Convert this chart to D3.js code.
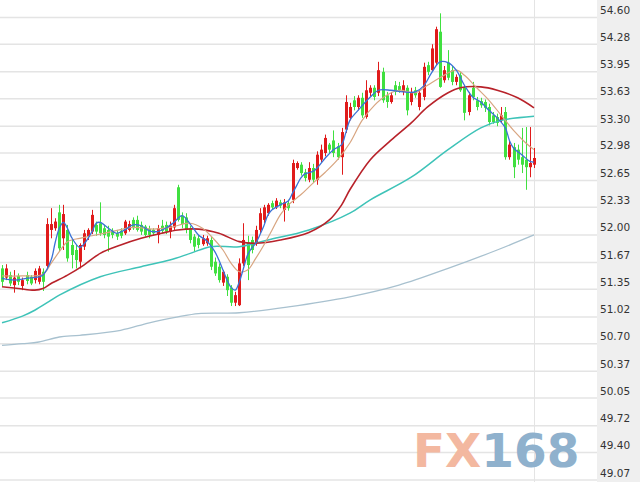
<!DOCTYPE html>
<html><head><meta charset="utf-8">
<script src="https://cdn.jsdelivr.net/npm/d3@7/dist/d3.min.js"></script>
<style>html,body{margin:0;padding:0;background:#fff}svg{display:block}</style>
</head><body>
<svg id="chart" width="640" height="482"></svg>
<script>
// ---- tick labels (right axis) ----
const tickLabels = ["54.60","54.28","53.95","53.63","53.30","52.98","52.65","52.33","52.00","51.67","51.35","51.02","50.70","50.37","50.05","49.72","49.40","49.07"];

// ---- candle data (one per session) ----
const opens = [51.60,51.49,51.52,51.40,51.51,51.39,51.52,51.50,51.46,51.44,51.56,
51.63,52.06,52.08,52.27,51.96,52.06,51.88,51.82,51.68,51.86,
51.98,52.04,52.12,52.14,52.08,52.06,52.05,52.02,52.05,52.02,
52.06,52.18,52.18,52.12,52.10,52.07,52.06,52.00,52.11,52.12,
52.04,52.09,52.57,52.23,52.21,52.08,51.98,51.96,51.89,51.90,
51.94,51.68,51.62,51.43,51.50,51.37,51.19,51.16,51.66,51.91,
51.94,51.90,52.06,52.18,52.26,52.38,52.33,52.39,52.30,52.38,
52.42,52.80,52.84,52.75,52.66,52.80,52.66,52.90,52.98,53.08,
53.13,53.06,52.93,53.26,53.40,53.61,53.53,53.64,53.41,53.70,
53.76,53.70,53.95,53.67,53.59,53.79,53.78,53.71,53.76,53.59,
53.73,53.53,53.65,54.03,53.97,54.06,54.43,53.85,54.06,53.97,
53.83,53.91,53.76,53.47,53.76,53.61,53.60,53.59,53.53,53.43,
53.41,53.37,53.47,52.93,53.05,53.02,52.93,52.90,52.81,52.84];
const closes = [51.44,51.60,51.42,51.49,51.44,51.46,51.45,51.42,51.57,51.60,51.44,
52.13,52.13,52.16,51.84,52.25,51.72,51.76,51.70,51.88,52.02,
52.06,52.24,52.04,52.02,52.00,51.98,52.00,51.98,51.99,52.16,
52.13,52.08,52.06,52.04,52.00,52.00,52.02,52.08,52.05,52.04,
52.11,52.32,52.18,52.13,52.06,51.94,51.86,51.88,51.96,51.96,
51.62,51.54,51.46,51.56,51.34,51.19,51.28,51.66,51.94,51.64,
51.82,52.06,52.26,52.33,52.36,52.33,52.41,52.35,52.39,52.32,
52.86,52.86,52.74,52.68,52.80,52.66,52.96,53.02,53.16,53.02,
52.98,52.93,53.23,53.59,53.53,53.53,53.64,53.43,53.73,53.76,
53.65,53.97,53.61,53.59,53.67,53.71,53.73,53.79,53.49,53.71,
53.67,53.70,54.01,53.95,54.23,54.46,53.77,53.97,53.88,53.83,
53.89,53.73,53.46,53.67,53.65,53.53,53.55,53.52,53.35,53.35,
53.34,53.43,52.93,53.08,52.81,52.90,52.84,52.81,52.86,52.92];
const highs = [51.64,51.65,51.56,51.58,51.54,51.49,51.56,51.52,51.60,51.63,51.60,
52.20,52.32,52.20,52.36,52.36,52.12,51.94,51.88,51.90,52.06,
52.08,52.30,52.16,52.39,52.12,52.11,52.08,52.06,52.08,52.18,
52.17,52.21,52.23,52.16,52.12,52.11,52.08,52.12,52.18,52.16,
52.16,52.36,52.60,52.27,52.26,52.11,52.01,52.00,52.00,51.99,
51.98,51.73,51.66,51.58,51.53,51.40,51.32,51.72,52.14,51.99,
51.98,52.11,52.32,52.36,52.38,52.41,52.44,52.42,52.43,52.42,
52.90,52.88,52.87,52.79,52.87,52.85,53.00,53.08,53.20,53.10,
53.25,53.10,53.28,53.67,53.58,53.66,53.67,53.70,53.85,53.79,
53.79,54.07,54.00,53.71,53.71,53.84,53.83,53.85,53.79,53.76,
53.77,53.73,54.06,54.07,54.28,54.49,54.65,54.02,54.21,54.02,
53.92,53.95,53.79,53.71,53.83,53.65,53.64,53.62,53.57,53.47,
53.45,53.53,53.53,53.13,53.10,53.08,53.28,53.29,53.29,53.04];
const lows = [51.38,51.46,51.39,51.31,51.40,51.34,51.41,51.40,51.42,51.41,51.33,
51.58,51.96,52.05,51.80,51.82,51.68,51.60,51.60,51.60,51.82,
51.94,52.01,51.99,51.99,51.96,51.80,51.96,51.94,51.96,52.00,
52.04,52.06,52.04,52.00,51.98,51.96,51.99,51.90,52.02,52.01,
51.96,52.06,52.16,52.08,52.02,51.90,51.80,51.84,51.87,51.87,
51.58,51.51,51.43,51.39,51.27,51.15,51.15,51.15,51.63,51.46,
51.78,51.87,52.02,52.14,52.23,52.31,52.31,52.32,52.16,52.29,
52.38,52.78,52.71,52.64,52.63,52.62,52.60,52.86,52.94,52.98,
52.93,52.90,52.72,53.22,53.37,53.49,53.49,53.40,53.39,53.66,
53.61,53.66,53.58,53.52,53.57,53.67,53.70,53.67,53.43,53.55,
53.64,53.49,53.61,53.91,53.95,54.03,53.76,53.82,53.85,53.79,
53.79,53.71,53.37,53.43,53.61,53.49,53.52,53.47,53.31,53.33,
53.30,53.34,52.90,52.90,52.68,52.84,52.74,52.54,52.69,52.80];

// ---- moving averages: [session index, value] ----
const ma5 = [[0,51.48],[3,51.46],[6,51.48],[9,51.50],[10,51.52],[12,51.70],[13,51.91],[14,52.08],[15,52.15],[16,52.08],[17,51.97],[19,51.85],[20,51.89],[22,52.04],[23,52.14],[24,52.15],[26,52.08],[28,52.02],[30,52.06],[32,52.12],[34,52.11],[36,52.05],[38,52.04],[40,52.08],[42,52.15],[44,52.23],[46,52.13],[48,52.00],[50,51.93],[52,51.80],[53,51.70],[54,51.58],[55,51.46],[56,51.37],[57,51.34],[58,51.44],[59,51.60],[60,51.76],[61,51.84],[62,51.90],[63,52.00],[64,52.11],[65,52.24],[66,52.30],[68,52.36],[70,52.41],[71,52.50],[72,52.59],[73,52.68],[74,52.73],[76,52.76],[77,52.80],[79,52.92],[81,53.02],[83,53.08],[84,53.22],[85,53.37],[87,53.49],[90,53.65],[92,53.73],[95,53.73],[98,53.71],[101,53.71],[103,53.78],[105,53.94],[107,54.07],[109,54.06],[111,53.97],[113,53.79],[115,53.65],[117,53.59],[119,53.49],[121,53.40],[123,53.28],[124,53.13],[125,53.04],[127,52.96],[129,52.88],[130,52.87]];
const ma10 = [[0,51.51],[5,51.51],[10,51.53],[12,51.66],[14,51.80],[16,51.92],[19,51.96],[22,51.99],[26,52.03],[32,52.09],[37,52.07],[41,52.09],[46,52.14],[49,52.08],[51,51.99],[54,51.82],[56,51.66],[58,51.56],[60,51.58],[62,51.72],[64,51.88],[66,52.06],[68,52.24],[70,52.36],[73,52.48],[76,52.62],[79,52.75],[82,52.90],[85,53.10],[88,53.37],[91,53.55],[94,53.67],[97,53.73],[101,53.70],[104,53.79],[107,53.88],[111,53.97],[113,53.91],[116,53.76],[119,53.61],[122,53.43],[125,53.25],[128,53.10],[130,53.02]];
const ma20 = [[0,51.38],[4,51.36],[8,51.34],[10,51.36],[12,51.42],[16,51.52],[20,51.64],[24,51.78],[29,51.88],[34,51.96],[39,52.02],[43,52.06],[48,52.07],[53,52.02],[58,51.92],[62,51.90],[68,51.94],[75,52.03],[80,52.18],[83,52.36],[85,52.54],[90,52.90],[95,53.13],[100,53.34],[104,53.53],[109,53.70],[112,53.76],[117,53.77],[121,53.73],[126,53.64],[130,53.52]];
const ma60 = [[0,50.95],[5,51.03],[8,51.10],[12,51.22],[14,51.28],[24,51.50],[34,51.62],[41,51.70],[46,51.78],[51,51.86],[58,51.86],[65,51.94],[75,52.06],[85,52.26],[90,52.42],[100,52.69],[109,53.02],[117,53.28],[122,53.37],[130,53.42]];
const ma120 = [[0,50.68],[5,50.70],[9,50.72],[14,50.78],[19,50.80],[29,50.86],[36,50.95],[43,51.02],[48,51.06],[58,51.07],[70,51.14],[85,51.26],[97,51.40],[109,51.60],[121,51.82],[130,52.00]];

const svg = d3.select('#chart');
const plotRight = 597;
const y = d3.scaleLinear().domain([49.07, 54.60]).range([480, 17.5]);
const x = d3.scaleLinear().domain([0, opens.length - 1]).range([2, 534]);

// right label panel
svg.append('rect').attr('x', plotRight).attr('y', 0).attr('width', 640 - plotRight).attr('height', 482).attr('fill', '#efefef');

// horizontal grid
const tickVals = tickLabels.map(Number);
svg.append('g').selectAll('line').data(tickVals).join('line')
  .attr('x1', 0).attr('x2', plotRight)
  .attr('y1', d => y(d)).attr('y2', d => y(d))
  .attr('stroke', '#e4e4e4').attr('stroke-width', 1.5);
// vertical grid line
svg.append('line').attr('x1', x(opens.length - 1) + 0.5).attr('x2', x(opens.length - 1) + 0.5)
  .attr('y1', 0).attr('y2', 482).attr('stroke', '#e4e4e4').attr('stroke-width', 1);

// labels
svg.append('g').selectAll('text').data(tickLabels).join('text')
  .attr('x', 600).attr('y', d => y(+d) - 3.5)
  .attr('font-family', 'Verdana, "DejaVu Sans", sans-serif').attr('font-size', 10.5)
  .attr('fill', '#333').text(d => d);

// watermark
const wm = svg.append('text').attr('x', 413).attr('y', 467)
  .attr('font-family', '"DejaVu Sans", sans-serif').attr('font-weight', 'bold').attr('font-size', 47);
wm.append('tspan').attr('fill', '#f3b8a0').text('FX');
wm.append('tspan').attr('fill', '#8fb1cd').text('168');

// moving averages
const line = d3.line().x(d => x(d[0])).y(d => y(d[1])).curve(d3.curveCatmullRom.alpha(0.5));
const mas = [
  {d: ma120, c: '#a8c1cf', w: 1.3},
  {d: ma60, c: '#3ec3b8', w: 1.5},
  {d: ma20, c: '#b8222a', w: 1.6},
  {d: ma10, c: '#d8a580', w: 1.2},
  {d: ma5, c: '#3a72d6', w: 1.3}
];
// candles
const idx = d3.range(opens.length);
const cg = svg.append('g');
const col = i => closes[i] >= opens[i] ? '#e01b1b' : '#40e040';
cg.selectAll('line').data(idx).join('line')
  .attr('x1', i => Math.round(x(i)) + 0.5).attr('x2', i => Math.round(x(i)) + 0.5)
  .attr('y1', i => y(highs[i])).attr('y2', i => y(lows[i]))
  .attr('stroke', col).attr('stroke-width', 1);
cg.selectAll('rect').data(idx).join('rect')
  .attr('x', i => Math.round(x(i)) - 1).attr('width', 3)
  .attr('y', i => y(Math.max(opens[i], closes[i])))
  .attr('height', i => Math.max(1, Math.abs(y(opens[i]) - y(closes[i]))))
  .attr('fill', col);

svg.append('g').selectAll('path').data(mas).join('path')
  .attr('d', m => line(m.d)).attr('fill', 'none')
  .attr('stroke', m => m.c).attr('stroke-width', m => m.w);
</script>
</body></html>
